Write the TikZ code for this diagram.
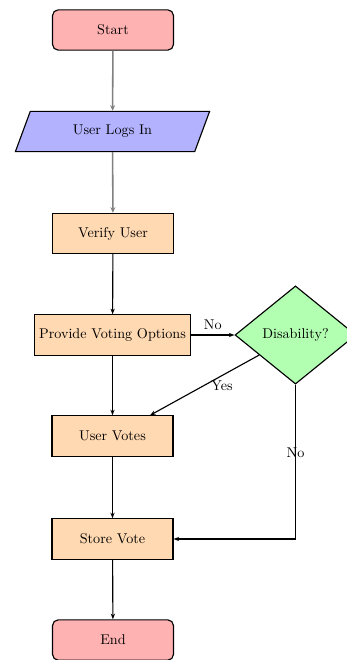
\documentclass[tikz,border=0pt]{standalone}
\usetikzlibrary{shapes.geometric,arrows.meta}
\begin{document}
\begin{tikzpicture}[x=0.024814cm,y=-0.024814cm,
  startstop/.style={rectangle, rounded corners, minimum width=3cm, minimum height=1cm, text centered, draw=black, thick, fill=red!30},
  io/.style={trapezium, trapezium stretches=true, trapezium left angle=70, trapezium right angle=110, minimum width=4.84cm, minimum height=1cm, text centered, draw=black, thick, fill=blue!30},
  process/.style={rectangle, minimum width=3cm, minimum height=1cm, text centered, draw=black, thick, fill=orange!30},
  decision/.style={diamond, minimum width=3cm, minimum height=1cm, text centered, draw=black, thick, fill=green!30},
  arr/.style={thick, -{Stealth[length=4pt,width=3pt]}},
  garr/.style={line width=1.1pt, draw=gray, -{Stealth[length=4pt,width=3.5pt]}}]
\useasboundingbox (0,0) rectangle (346,660);
\node[startstop] (start) at (113,30) {Start};
\node[io] (login) at (112.5,131.5) {User Logs In};
\node[process] (verify) at (113,233.5) {Verify User};
\node[process] (pvo) at (112.5,335) {Provide Voting Options};
\node[decision] (dis) at (295.5,335) {Disability?};
\node[process] (uv) at (112.5,436) {User Votes};
\node[process] (sv) at (112.5,539) {Store Vote};
\node[startstop] (stop) at (113,640) {End};
\draw[garr] (start) -- (login);
\draw[garr] (login) -- (verify);
\draw[arr] (verify) -- (pvo);
\draw[arr] (pvo) -- node[above] {No} (dis);
\draw[arr] (dis) -- node[pos=0.34, below] {Yes} (uv);
\draw[arr] (pvo) -- (uv);
\draw[arr] (uv) -- (sv);
\draw[arr] (dis.south) |- node[pos=0.22] {No} (sv.east);
\draw[arr] (sv) -- (stop);
\end{tikzpicture}
\end{document}
